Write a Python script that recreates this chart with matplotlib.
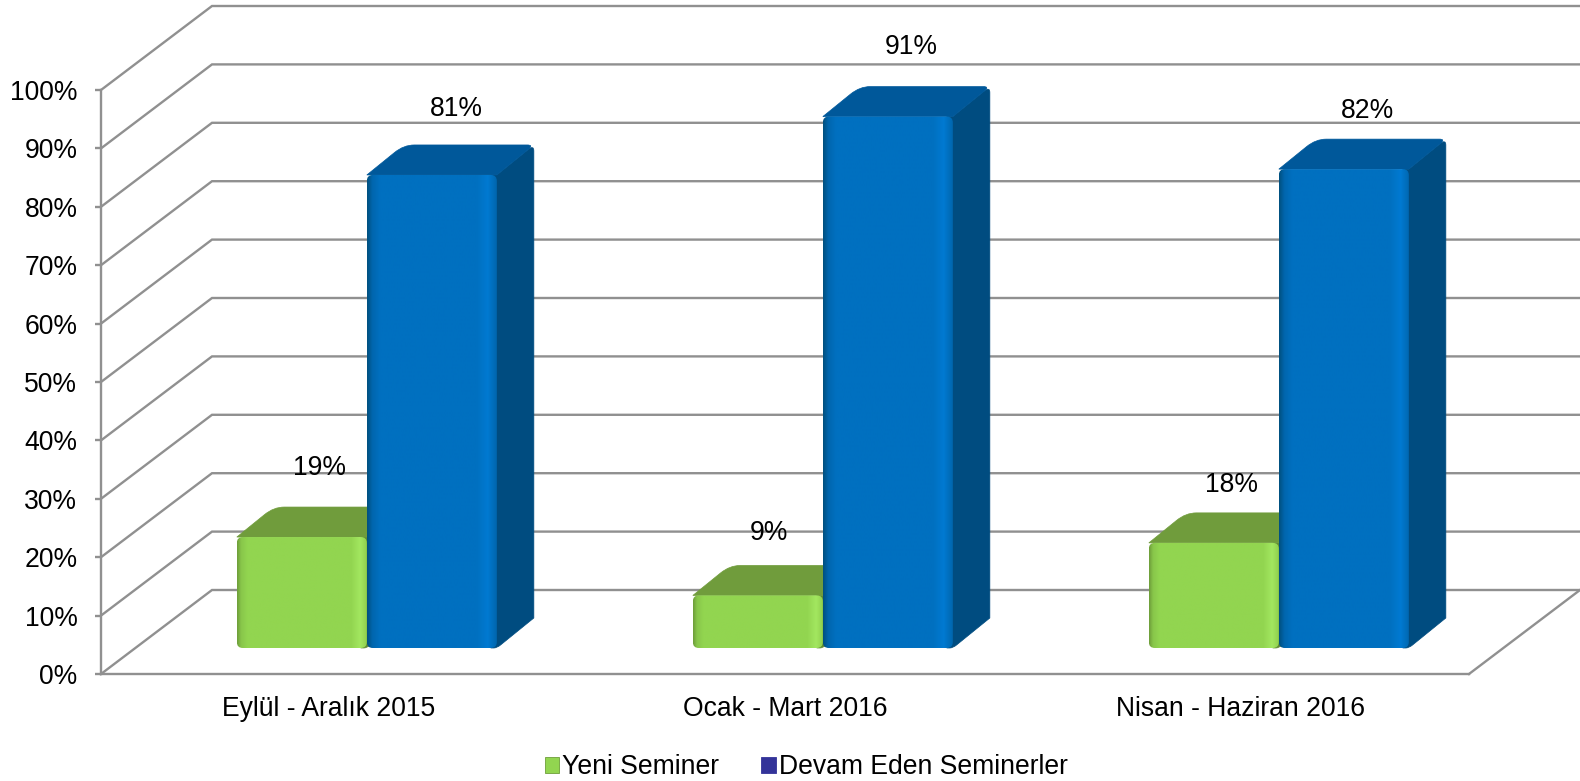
import numpy as np
import matplotlib
matplotlib.use("Agg")
import matplotlib.pyplot as plt
from matplotlib.colors import LinearSegmentedColormap
from matplotlib.patches import Patch, PathPatch
from matplotlib.path import Path

plt.rcParams["font.family"] = ["Liberation Sans", "DejaVu Sans"]

categories = ["Eylül - Aralık 2015", "Ocak - Mart 2016", "Nisan - Haziran 2016"]
yeni_seminer = [19, 9, 18]
devam_eden = [81, 91, 82]
series_names = ["Yeni Seminer", "Devam Eden Seminerler"]
y_ticks = list(range(0, 101, 10))

W, H = 1580, 781
GRID = "#909090"
FS = 19.1

# plot box in pixels (front plane of the 3d chart)
left, right, top, bottom = 101, 1469, 90, 674
px_x = (right - left) / 3
px_y = (bottom - top) / 100

# wall depth and bar depth, converted to data units
wall_dx, wall_dy = 111 / px_x, 84 / px_y
bar_dx, bar_dy = 37 / px_x, 30 / px_y
bar_width = 130 / px_x
bar_base = 26 / px_y
bar_shift = 0.083

green = {
    "top": "#709C3C", "side": "#5F8A32", "legend": "#92D550",
    "stops": [(0, "#6E9E3A"), (0.03, "#88C64A"), (0.08, "#92D550"), (0.88, "#92D550"),
              (0.95, "#A3E760"), (1, "#90D04E")],
}
blue = {
    "top": "#00589A", "side": "#004C80", "legend": "#333399",
    "stops": [(0, "#00507F"), (0.04, "#0066AE"), (0.1, "#0070C0"), (0.85, "#0070C0"),
              (0.93, "#007AD2"), (1, "#0066AE")],
}


def rounded_rect(x0, x1, y0, y1, rx, ry):
    verts = [(x0, y0 + ry), (x0, y1 - ry), (x0, y1), (x0 + rx, y1), (x1 - rx, y1), (x1, y1), (x1, y1 - ry),
             (x1, y0 + ry), (x1, y0), (x1 - rx, y0), (x0 + rx, y0), (x0, y0), (x0, y0 + ry)]
    codes = [Path.MOVETO, Path.LINETO, Path.CURVE3, Path.CURVE3, Path.LINETO, Path.CURVE3, Path.CURVE3,
             Path.LINETO, Path.CURVE3, Path.CURVE3, Path.LINETO, Path.CURVE3, Path.CURVE3]
    return Path(verts, codes)


def soft_poly(pts, fracs):
    # closed polygon, each corner cut by a (before, after) fraction of its two edges
    pts = [np.array(p, dtype=float) for p in pts]
    verts, codes = [], []
    n = len(pts)
    for i, p in enumerate(pts):
        f0, f1 = fracs[i]
        a = p + (pts[i - 1] - p) * f0
        b = p + (pts[(i + 1) % n] - p) * f1
        verts += [a, p, b]
        codes += [Path.MOVETO if i == 0 else Path.LINETO, Path.CURVE3, Path.CURVE3]
    verts.append(verts[0])
    codes.append(Path.CLOSEPOLY)
    return Path(verts, codes)


def draw_bar(ax, x0, value, style, z):
    x1 = x0 + bar_width
    y0 = bar_base
    y1 = bar_base + value
    # side starts a little behind the front face so its rounded corners have no white gap
    inset = 6 / px_x
    h_frac = min(0.5, (6 / px_y) / value)
    top_pts = [(x0, y1), (x0 + bar_dx, y1 + bar_dy), (x1 + bar_dx, y1 + bar_dy), (x1, y1)]
    side_pts = [(x1 - inset, y1), (x1, y1), (x1 + bar_dx, y1 + bar_dy), (x1 + bar_dx, y0 + bar_dy), (x1, y0),
                (x1 - inset, y0)]
    top_fr = [(0, 0), (0.25, 0.08), (0.05, 0.15), (0, 0)]
    side_fr = [(0, 0), (0, 0), (0.15, h_frac), (0, 0), (0.1, 0.5), (0, 0)]
    for pts, fr, col in [(side_pts, side_fr, style["side"]), (top_pts, top_fr, style["top"])]:
        ax.add_patch(PathPatch(soft_poly(pts, fr), fc=col, ec=col, lw=0.5, clip_on=False, zorder=z))

    cmap = LinearSegmentedColormap.from_list("bar", style["stops"])
    im = ax.imshow(np.linspace(0, 1, 256).reshape(1, -1), cmap=cmap, aspect="auto", extent=(x0, x1, y0, y1),
                   zorder=z + 0.1, interpolation="bilinear")
    clip = PathPatch(rounded_rect(x0, x1, y0, y1, 6 / px_x, 6 / px_y), transform=ax.transData, fc="none", ec="none")
    ax.add_patch(clip)
    im.set_clip_path(clip)


fig = plt.figure(figsize=(W / 100, H / 100), dpi=100, facecolor="white")
ax = fig.add_axes([left / W, 1 - bottom / H, (right - left) / W, (bottom - top) / H])
ax.patch.set_visible(False)

xmin, xmax = -0.5, 2.5

# walls: diagonals on the left side wall and lines on the back wall
for t in y_ticks:
    ax.plot([xmin, xmin + wall_dx, xmax + wall_dx], [t, t + wall_dy, t + wall_dy], color=GRID, lw=1.7,
            clip_on=False, zorder=1, solid_joinstyle="miter")
ax.plot([xmax, xmax + wall_dx], [0, wall_dy], color=GRID, lw=1.7, clip_on=False, zorder=1)

# bars, label offsets are in points because the labels were moved by hand
label_x_green = [12.5, 8, 13]
label_x_blue = [18, 17, 17]
label_up_green = [50, 45, 41.5]
label_up_blue = [47.5, 50, 41.5]
for i in range(len(categories)):
    x_green = i + bar_shift - bar_width
    x_blue = i + bar_shift
    draw_bar(ax, x_green, yeni_seminer[i], green, 3 + i)
    draw_bar(ax, x_blue, devam_eden[i], blue, 3.5 + i)
    ax.annotate(f"{yeni_seminer[i]}%", (x_green + bar_width / 2, bar_base + yeni_seminer[i]),
                xytext=(label_x_green[i], label_up_green[i]), textcoords="offset points", ha="center", va="center",
                fontsize=FS, color="black", annotation_clip=False, zorder=10)
    ax.annotate(f"{devam_eden[i]}%", (x_blue + bar_width / 2, bar_base + devam_eden[i]),
                xytext=(label_x_blue[i], label_up_blue[i]), textcoords="offset points", ha="center", va="center",
                fontsize=FS, color="black", annotation_clip=False, zorder=10)

ax.set_xlim(xmin, xmax)
ax.set_ylim(0, 100)
ax.set_xticks(range(len(categories)))
ax.set_xticklabels(categories, fontsize=FS)
ax.set_yticks(y_ticks)
ax.set_yticklabels([f"{t}%" for t in y_ticks], fontsize=FS)
ax.tick_params(axis="x", length=0, pad=15.5)
ax.tick_params(axis="y", length=4.5, width=1.7, color=GRID, pad=12.5)
for name in ["top", "right"]:
    ax.spines[name].set_visible(False)
for name in ["left", "bottom"]:
    ax.spines[name].set_color(GRID)
    ax.spines[name].set_linewidth(1.7)

handles = [Patch(fc=green["legend"], ec="#6E9E3A", lw=0.6), Patch(fc=blue["legend"], ec=blue["legend"], lw=0.6)]
fig.legend(handles, series_names, loc="center", bbox_to_anchor=(806 / W, 1 - 767 / H), ncol=2, frameon=False,
           fontsize=FS, handlelength=0.55, handleheight=0.55, handletextpad=0.1, columnspacing=1.6, borderpad=0)

fig.savefig("out.png", dpi=100)
plt.close(fig)
